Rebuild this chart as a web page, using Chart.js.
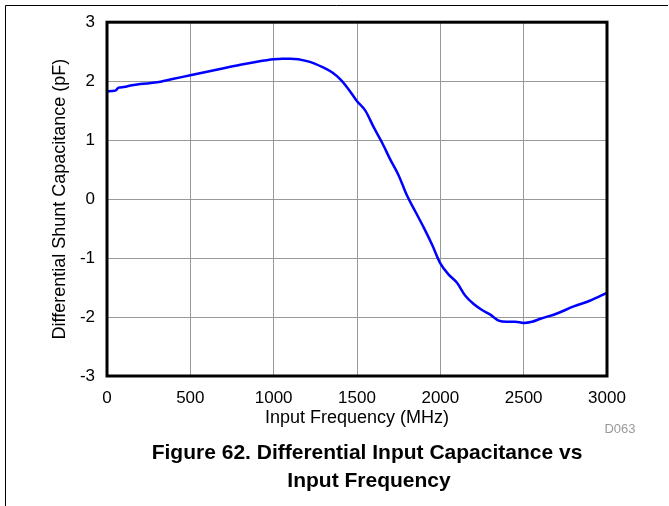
<!DOCTYPE html>
<html>
<head>
<meta charset="utf-8">
<script src="https://cdn.jsdelivr.net/npm/chart.js@4.4.1/dist/chart.umd.min.js"></script>
<style>
  html, body { margin: 0; padding: 0; background: #fff; }
  #wrap { width: 669px; height: 506px; }
</style>
</head>
<body>
<div id="wrap"><canvas id="capChart" width="669" height="506"></canvas></div>
<script>
// frequency (MHz) and differential shunt capacitance (pF)
const freqMHz = [0, 50, 70, 100, 150, 200, 300, 400, 500, 600, 700, 800, 900, 1000, 1050, 1100,
    1200, 1300, 1350, 1400, 1450, 1500, 1550, 1600, 1650, 1700, 1750, 1800, 1850, 1900, 1950,
    2000, 2050, 2100, 2150, 2200, 2250, 2300, 2350, 2400, 2450, 2500, 2550, 2600, 2700, 2800,
    2900, 3000];
const capPF = [1.83, 1.84, 1.89, 1.90, 1.93, 1.95, 1.98, 2.04, 2.10, 2.16, 2.22, 2.28, 2.33, 2.37, 2.38, 2.38,
    2.34, 2.23, 2.15, 2.03, 1.86, 1.66, 1.50, 1.22, 0.96, 0.67, 0.40, 0.06, -0.21, -0.48, -0.77,
    -1.09, -1.28, -1.42, -1.64, -1.78, -1.88, -1.96, -2.06, -2.08, -2.08, -2.10, -2.08, -2.03, -1.94, -1.82,
    -1.72, -1.59];

const xTicks = [0, 500, 1000, 1500, 2000, 2500, 3000];
const yTicks = [-3, -2, -1, 0, 1, 2, 3];

const xTitle = 'Input Frequency (MHz)';
const yTitle = 'Differential Shunt Capacitance (pF)';
const captionLines = ['Figure 62. Differential Input Capacitance vs', 'Input Frequency'];
const figId = 'D063';

const FONT = '"Liberation Sans", Arial, sans-serif';

const decorPlugin = {
    id: 'decor',
    afterDraw(chart) {
        const ctx = chart.ctx;
        const a = chart.chartArea;
        ctx.save();

        // plot frame
        ctx.strokeStyle = '#000';
        ctx.lineWidth = 3;
        ctx.strokeRect(a.left, a.top, a.right - a.left, a.bottom - a.top);

        // outer page rule (top and left)
        ctx.lineWidth = 1;
        ctx.beginPath();
        ctx.moveTo(668, 5.5);
        ctx.lineTo(5.5, 5.5);
        ctx.lineTo(5.5, 506);
        ctx.stroke();

        // axis titles
        ctx.fillStyle = '#000';
        ctx.font = `18px ${FONT}`;
        ctx.textAlign = 'center';
        ctx.textBaseline = 'middle';
        ctx.fillText(xTitle, (a.left + a.right) / 2, 418);

        ctx.save();
        ctx.translate(60, (a.top + a.bottom) / 2);
        ctx.rotate(-Math.PI / 2);
        ctx.fillText(yTitle, 0, 0);
        ctx.restore();

        // figure id
        ctx.fillStyle = '#999';
        ctx.font = `13px ${FONT}`;
        ctx.fillText(figId, 620, 429);

        // caption
        ctx.fillStyle = '#000';
        ctx.font = `bold 21px ${FONT}`;
        ctx.fillText(captionLines[0], 367, 453);
        ctx.fillText(captionLines[1], 369, 481);

        ctx.restore();
    }
};

const ctx = document.getElementById('capChart').getContext('2d');
new Chart(ctx, {
    type: 'line',
    data: {
        datasets: [{
            data: freqMHz.map((f, i) => ({ x: f, y: capPF[i] })),
            borderColor: '#0000ff',
            borderWidth: 2.5,
            pointRadius: 0,
            tension: 0.4,
            cubicInterpolationMode: 'monotone',
            fill: false
        }]
    },
    options: {
        responsive: false,
        animation: false,
        devicePixelRatio: 1,
        layout: { padding: { top: 20, right: 62, left: 0, bottom: 0 } },
        plugins: { legend: { display: false }, tooltip: { enabled: false } },
        scales: {
            x: {
                type: 'linear',
                min: 0,
                max: 3000,
                afterFit: s => { s.height = 130; },
                afterBuildTicks: s => { s.ticks = xTicks.map(v => ({ value: v })); },
                grid: { color: '#999', lineWidth: 1, drawTicks: false },
                border: { display: false },
                ticks: {
                    color: '#000', padding: 12, maxRotation: 0,
                    font: { family: FONT, size: 17 },
                    callback: v => String(v)
                }
            },
            y: {
                min: -3,
                max: 3,
                afterFit: s => { s.width = 107; },
                afterBuildTicks: s => { s.ticks = yTicks.map(v => ({ value: v })); },
                grid: { color: '#999', lineWidth: 1, drawTicks: false },
                border: { display: false },
                ticks: {
                    color: '#000', padding: 12,
                    font: { family: FONT, size: 17 },
                    callback: v => String(v)
                }
            }
        }
    },
    plugins: [decorPlugin]
});
</script>
</body>
</html>
